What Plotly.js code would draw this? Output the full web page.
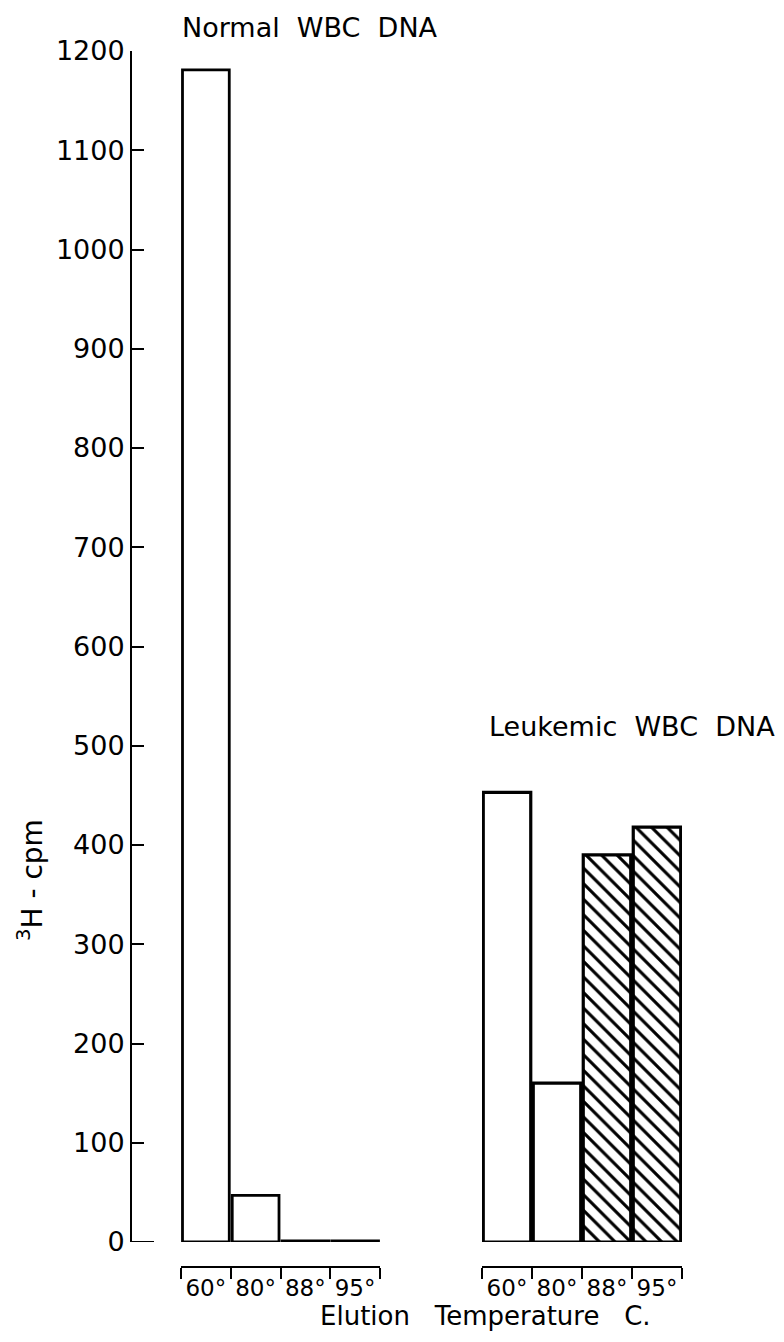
<!DOCTYPE html>
<html>
<head>
<meta charset="utf-8">
<script src="https://cdn.plot.ly/plotly-3.0.1.min.js"></script>
<style>html,body{margin:0;padding:0;background:#fff;}#chart{width:784px;height:1342px;}</style>
</head>
<body>
<div id="chart"></div>
<script>
// ---- data ----
const tempLabels = ['60°', '80°', '88°', '95°'];
const normalValues = [1181, 47, 1, 1];
const leukemicValues = [453, 160, 390, 418];
const leukemicPattern = ['', '', '\\', '\\'];
const yTickValues = [0, 100, 200, 300, 400, 500, 600, 700, 800, 900, 1000, 1100, 1200];

const FONT = 'DejaVu Sans, sans-serif';
const W = 784, H = 1342;
const mL = 131, mR = 84, mT = 51, mB = 75;
const pw = W - mL - mR, ph = H - mT - mB;
const px = v => (v - mL) / pw;          // page x -> paper x
const py = v => (H - mB - v) / ph;      // page y -> paper y

const traces = [
  {
    type: 'bar', x: tempLabels, y: normalValues, xaxis: 'x', yaxis: 'y',
    width: 0.94,
    marker: {color: '#ffffff', line: {color: '#000000', width: 2.8}},
    hoverinfo: 'skip', showlegend: false
  },
  {
    type: 'bar', x: tempLabels, y: leukemicValues, xaxis: 'x2', yaxis: 'y',
    width: 0.95,
    marker: {
      color: '#ffffff', line: {color: '#000000', width: 3.2},
      pattern: {shape: leukemicPattern, fgcolor: '#000000', bgcolor: '#ffffff', size: 11, solidity: 0.28}
    },
    hoverinfo: 'skip', showlegend: false
  }
];

const xAxisCommon = {
  type: 'category', anchor: 'free', position: 0,
  showline: true, linecolor: '#000', linewidth: 2,
  ticks: 'outside', tickson: 'boundaries', ticklen: 11, tickwidth: 2, tickcolor: '#000',
  showgrid: false, zeroline: false, fixedrange: true, tickangle: 0,
  tickfont: {family: FONT, size: 23, color: '#000'}
};

const layout = {
  width: W, height: H,
  margin: {l: mL, r: mR, t: mT, b: mB, pad: 0},
  paper_bgcolor: '#ffffff', plot_bgcolor: 'rgba(0,0,0,0)',
  bargap: 0, showlegend: false,
  xaxis: Object.assign({}, xAxisCommon, {domain: [px(181), px(380)]}),
  xaxis2: Object.assign({}, xAxisCommon, {domain: [px(482), px(682)]}),
  yaxis: {
    anchor: 'free', position: 0, domain: [py(1242), 1], range: [0, 1200],
    showline: true, linecolor: '#000', linewidth: 2,
    ticks: 'inside', ticklen: 12, tickwidth: 2, tickcolor: '#000',
    tickmode: 'array', tickvals: yTickValues,
    showgrid: false, zeroline: false, fixedrange: true,
    tickfont: {family: FONT, size: 27, color: '#000'}
  },
  shapes: [
    {type: 'line', xref: 'paper', yref: 'y', x0: 0, x1: px(154), y0: 0, y1: 0,
     line: {color: '#000', width: 2}}
  ],
  annotations: [
    {text: 'Normal\u00a0 WBC\u00a0 DNA', xref: 'paper', yref: 'paper', x: px(310), y: py(28),
     xanchor: 'center', yanchor: 'middle', showarrow: false,
     font: {family: FONT, size: 27, color: '#000'}},
    {text: 'Leukemic\u00a0 WBC\u00a0 DNA', xref: 'paper', yref: 'paper', x: px(632), y: py(726),
     xanchor: 'center', yanchor: 'middle', showarrow: false,
     font: {family: FONT, size: 27, color: '#000'}},
    {text: 'Elution\u00a0\u00a0 Temperature\u00a0\u00a0 C.', xref: 'paper', yref: 'paper', x: px(485), y: py(1316),
     xanchor: 'center', yanchor: 'middle', showarrow: false,
     font: {family: FONT, size: 26, color: '#000'}},
    {text: '<sup>3</sup>H - cpm', xref: 'paper', yref: 'paper', x: px(30), y: py(880),
     xanchor: 'center', yanchor: 'middle', textangle: -90, showarrow: false,
     font: {family: FONT, size: 28, color: '#000'}}
  ]
};

Plotly.newPlot('chart', traces, layout, {displayModeBar: false, staticPlot: true});
</script>
</body>
</html>
